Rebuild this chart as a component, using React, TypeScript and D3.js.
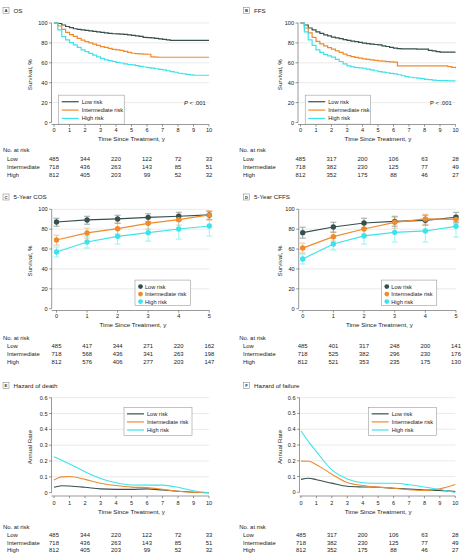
import React from 'react';
import * as d3 from 'd3';

const FONT = "'Liberation Sans', Arial, sans-serif";
const COLORS = ['#35504e', '#f08a2b', '#3ce3ea'];
const seriesNames = ['Low risk', 'Intermediate risk', 'High risk'];
const rowLabels = ['Low', 'Intermediate', 'High'];

// Kaplan-Meier time grid (years)
const kmTimes = [0, 0.25, 0.5, 0.75, 1, 1.25, 1.5, 1.75, 2, 2.25, 2.5, 2.75, 3, 3.25, 3.5, 3.75, 4, 4.25, 4.5, 4.75, 5, 5.25, 5.5, 5.75, 6, 6.25, 6.5, 6.75, 7, 7.25, 7.5, 7.75, 8, 8.25, 8.5, 8.75, 9, 9.25, 9.5, 9.75, 10];
const osLow = [100, 99.5, 98, 96.5, 95.3, 94.2, 93.5, 93, 92.5, 92, 91.5, 91, 90.6, 90, 89.5, 89.2, 89, 88.8, 88.5, 88, 87.6, 87, 86.5, 85.5, 85.3, 85, 84.6, 84, 83.6, 83, 82.6, 82.6, 82.6, 82.6, 82.6, 82.6, 82.6, 82.6, 82.6, 82.6, 82.6];
const osInt = [100, 97, 93.6, 90.5, 88.3, 86.5, 84.5, 82.8, 81.3, 80, 78.8, 77.5, 76.3, 75.5, 74.5, 73.5, 73, 72.5, 71.5, 70.5, 69.6, 69.3, 69, 68.8, 68.6, 66, 65.8, 65.6, 65.6, 65.6, 65.6, 65.6, 65.6, 65.6, 65.6, 65.6, 65.6, 65.6, 65.6, 65.6, 65.6];
const osHigh = [100, 93, 86.3, 83, 80.3, 78, 75.5, 73, 71.2, 69.5, 67.8, 66, 64.5, 63, 62.2, 61.3, 60.5, 59.8, 59, 58.3, 57.9, 57.2, 56.5, 55.8, 55.2, 54.6, 54, 53.4, 52.8, 52, 51.2, 50.5, 49.5, 49, 48.3, 47.8, 47.5, 47.5, 47.5, 47.5, 47.5];
const ffsLow = [100, 98, 95, 93, 91, 89.5, 88, 87, 85.9, 85, 84.2, 83.2, 82.5, 81.8, 81.2, 80.5, 79.8, 79.3, 78.8, 78.4, 78, 77, 76.4, 75.5, 74.7, 74.2, 74, 74, 74, 74, 73.8, 73.7, 73.7, 72.4, 72, 71.2, 70.7, 70.7, 70.7, 70.7, 70.7];
const ffsInt = [100, 95, 90, 85.5, 81.5, 79, 77, 75.3, 73.7, 72, 70.5, 68.8, 67.3, 66.3, 65.4, 64.6, 64, 63.5, 63, 62.5, 62, 61.6, 61.2, 60.9, 60.6, 57, 57, 57, 57, 57, 57, 57, 57, 57, 57, 57, 57, 57, 56.2, 55.5, 54.5];
const ffsHigh = [100, 91, 83, 77.5, 73, 70.5, 68.5, 67, 65.7, 63.5, 61.3, 59, 56.9, 56, 55.3, 55, 54.5, 53.7, 52.8, 52, 51.2, 50.6, 50, 49.4, 48.8, 48, 47, 46.2, 45.5, 45, 44.5, 44, 43.4, 43, 42.6, 42.2, 42, 42, 41.8, 41.8, 41.8];

// 5-year conditional survival
const condYears = [0, 1, 2, 3, 4, 5];
const cosLow = [87.2, 89.3, 90.3, 91.9, 93, 94.3];
const cosLowLo = [83, 85, 86, 87.5, 88.5, 90];
const cosLowHi = [91, 93, 94, 95.5, 97, 98];
const cosInt = [69.1, 76.2, 80.5, 85.9, 89.6, 94.3];
const cosIntLo = [64, 71, 75, 80, 84, 89];
const cosIntHi = [74, 81, 86, 91, 95, 98.5];
const cosHigh = [57, 67.1, 72.8, 76.5, 80.2, 83.2];
const cosHighLo = [52, 61, 65, 68, 70, 73];
const cosHighHi = [62, 73, 80, 85, 90, 93];
const cffsLow = [76.5, 82.2, 86.2, 87.9, 88.9, 92];
const cffsLowLo = [71, 77, 81, 83, 84, 87];
const cffsLowHi = [82, 87, 91, 93, 94, 97];
const cffsInt = [61, 72.5, 80.2, 86.9, 90.3, 89.9];
const cffsIntLo = [56, 68, 75, 81, 85, 86];
const cffsIntHi = [66, 77, 85, 92, 95, 94];
const cffsHigh = [50, 65.1, 73.2, 76.8, 78.2, 82.9];
const cffsHighLo = [45, 59, 65, 67, 67, 72];
const cffsHighHi = [55, 71, 81, 86, 88, 93];

// Hazard rates
const hzTimes = [0, 0.5, 1, 2, 3, 4, 5, 6, 7, 8, 9, 10];
const deathLow = [0.034, 0.044, 0.042, 0.034, 0.024, 0.021, 0.021, 0.024, 0.017, 0.009, 0.003, 0];
const deathInt = [0.08, 0.1, 0.102, 0.084, 0.06, 0.045, 0.035, 0.032, 0.021, 0.009, 0.003, 0];
const deathHigh = [0.227, 0.205, 0.182, 0.133, 0.09, 0.063, 0.049, 0.048, 0.048, 0.034, 0.012, 0];
const failLow = [0.082, 0.089, 0.08, 0.058, 0.038, 0.034, 0.032, 0.026, 0.02, 0.015, 0.012, 0.004];
const failInt = [0.198, 0.197, 0.175, 0.115, 0.062, 0.043, 0.033, 0.026, 0.016, 0.011, 0.022, 0.049];
const failHigh = [0.389, 0.32, 0.258, 0.142, 0.085, 0.061, 0.057, 0.057, 0.048, 0.034, 0.018, 0];

// Number at risk
const riskTimes10 = [0, 2, 4, 6, 8, 10];
const osRiskLow = [485, 344, 220, 122, 72, 33];
const osRiskInt = [718, 436, 263, 143, 85, 51];
const osRiskHigh = [812, 405, 203, 99, 52, 32];
const ffsRiskLow = [485, 317, 200, 106, 63, 28];
const ffsRiskInt = [718, 382, 230, 125, 77, 49];
const ffsRiskHigh = [812, 352, 175, 88, 46, 27];
const cosRiskLow = [485, 417, 344, 271, 220, 162];
const cosRiskInt = [718, 568, 436, 341, 263, 198];
const cosRiskHigh = [812, 576, 406, 277, 203, 147];
const cffsRiskLow = [485, 401, 317, 248, 200, 141];
const cffsRiskInt = [718, 525, 382, 296, 230, 176];
const cffsRiskHigh = [812, 521, 353, 235, 175, 130];

const ticks10 = [0, 1, 2, 3, 4, 5, 6, 7, 8, 9, 10];
const ticks5 = [0, 1, 2, 3, 4, 5];
const survTicks = [0, 20, 40, 60, 80, 100];
const rateTicks = [0, 0.1, 0.2, 0.3, 0.4, 0.5, 0.6];

type Cfg = {
  x0: number; x1: number; yAx: number; yTop: number; yBot: number; xAxisY: number;
  tickLabY: number; xTitleY: number; riskY: number[]; labelX: number; rowX: number;
  boxX: number; boxY: number; titleY: number; yLabelX: number;
  letter: string; title: string; yLabel: string;
  xMax: number; yMax: number; xTicks: number[]; yTicks: number[];
};

function Frame({ c, x, y, fmt }: { c: Cfg; x: any; y: any; fmt: (v: number) => string }) {
  return (
    <g>
      {/* panel label */}
      <rect x={c.boxX} y={c.boxY} width={6} height={6} fill="#fff" stroke="#777" strokeWidth={0.5} />
      <text x={c.boxX + 3} y={c.boxY + 4.7} fontSize={4.3} fontWeight="bold" textAnchor="middle" fill="#333">{c.letter}</text>
      <text x={c.boxX + 10.5} y={c.titleY} fontSize={6.2} fill="#222">{c.title}</text>
      {/* grid */}
      {c.yTicks.filter((t) => t > 0).map((t) => (
        <line key={'g' + t} x1={c.yAx} x2={c.x1} y1={y(t)} y2={y(t)} stroke="#dcdcdc" strokeWidth={0.6} />
      ))}
      {/* y axis */}
      <line x1={c.yAx} x2={c.yAx} y1={c.yTop} y2={c.yBot} stroke="#555" strokeWidth={0.6} />
      {c.yTicks.map((t) => (
        <g key={'y' + t}>
          <line x1={c.yAx - 2.5} x2={c.yAx} y1={y(t)} y2={y(t)} stroke="#555" strokeWidth={0.6} />
          <text x={c.yAx - 4} y={y(t) + 2} fontSize={5.6} textAnchor="end" fill="#222">{fmt(t)}</text>
        </g>
      ))}
      <text transform={`translate(${c.yLabelX},${(c.yTop + c.yBot) / 2 + 2}) rotate(-90)`} fontSize={6.2} textAnchor="middle" fill="#222">{c.yLabel}</text>
      {/* x axis */}
      <line x1={c.yAx} x2={c.x1} y1={c.xAxisY} y2={c.xAxisY} stroke="#555" strokeWidth={0.6} />
      {c.xTicks.map((t) => (
        <g key={'x' + t}>
          <line x1={x(t)} x2={x(t)} y1={c.xAxisY} y2={c.xAxisY + 2.2} stroke="#555" strokeWidth={0.6} />
          <text x={x(t)} y={c.tickLabY} fontSize={5.6} textAnchor="middle" fill="#222">{t}</text>
        </g>
      ))}
      <text x={(c.x0 + c.x1) / 2} y={c.xTitleY} fontSize={6.2} textAnchor="middle" fill="#222">Time Since Treatment, y</text>
    </g>
  );
}

function RiskTable({ c, x, times, rows }: { c: Cfg; x: any; times: number[]; rows: number[][] }) {
  return (
    <g fontSize={5.9} fill="#222">
      <text x={c.labelX} y={c.riskY[0]}>No. at risk</text>
      {rows.map((r, i) => (
        <g key={i}>
          <text x={c.rowX} y={c.riskY[i + 1]}>{rowLabels[i]}</text>
          {r.map((v, j) => (
            <text key={j} x={x(times[j])} y={c.riskY[i + 1]} textAnchor="middle">{v}</text>
          ))}
        </g>
      ))}
    </g>
  );
}

function LineLegend({ x, y, w, h }: { x: number; y: number; w: number; h: number }) {
  const step = h / 3.3;
  return (
    <g>
      <rect x={x} y={y} width={w} height={h} fill="#fff" stroke="#888" strokeWidth={0.5} />
      {seriesNames.map((n, i) => {
        const yy = y + step * 0.7 + i * step * 0.95 + step * 0.05;
        return (
          <g key={n}>
            <line x1={x + 3} x2={x + 20} y1={yy} y2={yy} stroke={COLORS[i]} strokeWidth={1.2} />
            <text x={x + 23} y={yy + 2} fontSize={5.6} fill="#222">{n}</text>
          </g>
        );
      })}
    </g>
  );
}

function DotLegend({ x, y, w, h }: { x: number; y: number; w: number; h: number }) {
  return (
    <g>
      <rect x={x} y={y} width={w} height={h} fill="#fff" stroke="#888" strokeWidth={0.5} />
      {seriesNames.map((n, i) => {
        const yy = y + 6.5 + i * 7.5;
        return (
          <g key={n}>
            <circle cx={x + 5.5} cy={yy} r={2.4} fill={COLORS[i]} />
            <text x={x + 10} y={yy + 2} fontSize={5.6} fill="#222">{n}</text>
          </g>
        );
      })}
    </g>
  );
}

function KMPanel({ c, series, pItalic, pX, riskRows }: { c: Cfg; series: number[][]; pItalic: boolean; pX: number; riskRows: number[][] }) {
  const x = d3.scaleLinear().domain([0, c.xMax]).range([c.x0, c.x1]);
  const y = d3.scaleLinear().domain([0, c.yMax]).range([c.yBot, c.yTop]);
  const line = d3.line<number>().x((_, i) => x(kmTimes[i])).y((d) => y(d)).curve(d3.curveStepAfter);
  return (
    <g>
      <Frame c={c} x={x} y={y} fmt={(v) => String(v)} />
      {series.map((s, i) => (
        <path key={i} d={line(s) || ''} fill="none" stroke={COLORS[i]} strokeWidth={1.2} />
      ))}
      <LineLegend x={c.x0 + 4.7} y={y(27.5)} w={65.5} h={29} />
      <text x={pX} y={y(19.5) + 2} fontSize={5.8} fill="#222">
        <tspan fontStyle={pItalic ? 'italic' : 'normal'}>P</tspan> &lt; .001
      </text>
      <RiskTable c={c} x={x} times={riskTimes10} rows={riskRows} />
    </g>
  );
}

function CondPanel({ c, series, lo, hi, legendX, riskRows }: { c: Cfg; series: number[][]; lo: number[][]; hi: number[][]; legendX: number; riskRows: number[][] }) {
  const x = d3.scaleLinear().domain([0, c.xMax]).range([c.x0, c.x1]);
  const y = d3.scaleLinear().domain([0, c.yMax]).range([c.yBot, c.yTop]);
  const line = d3.line<number>().x((_, i) => x(condYears[i])).y((d) => y(d));
  return (
    <g>
      <Frame c={c} x={x} y={y} fmt={(v) => String(v)} />
      {series.map((s, i) => (
        <g key={'e' + i} stroke={COLORS[i]} strokeWidth={0.9} opacity={0.55}>
          {s.map((_, j) => (
            <g key={j}>
              <line x1={x(condYears[j])} x2={x(condYears[j])} y1={y(lo[i][j])} y2={y(hi[i][j])} />
              <line x1={x(condYears[j]) - 3} x2={x(condYears[j]) + 3} y1={y(lo[i][j])} y2={y(lo[i][j])} />
              <line x1={x(condYears[j]) - 3} x2={x(condYears[j]) + 3} y1={y(hi[i][j])} y2={y(hi[i][j])} />
            </g>
          ))}
        </g>
      ))}
      {series.map((s, i) => (
        <path key={'l' + i} d={line(s) || ''} fill="none" stroke={COLORS[i]} strokeWidth={1.2} />
      ))}
      {series.map((s, i) => (
        <g key={'p' + i}>
          {s.map((v, j) => (
            <circle key={j} cx={x(condYears[j])} cy={y(v)} r={2.7} fill={COLORS[i]} />
          ))}
        </g>
      ))}
      <DotLegend x={legendX} y={y(28.8)} w={55.5} h={25.5} />
      <RiskTable c={c} x={x} times={condYears} rows={riskRows} />
    </g>
  );
}

function HazardPanel({ c, series, legendX, riskRows }: { c: Cfg; series: number[][]; legendX: number; riskRows: number[][] }) {
  const x = d3.scaleLinear().domain([0, c.xMax]).range([c.x0, c.x1]);
  const y = d3.scaleLinear().domain([0, c.yMax]).range([c.yBot, c.yTop]);
  const line = d3.line<number>().x((_, i) => x(hzTimes[i])).y((d) => y(d)).curve(d3.curveMonotoneX);
  return (
    <g>
      <Frame c={c} x={x} y={y} fmt={(v) => (v === 0 ? '0' : d3.format('.1f')(v))} />
      {series.map((s, i) => (
        <path key={i} d={line(s) || ''} fill="none" stroke={COLORS[i]} strokeWidth={1.1} />
      ))}
      <LineLegend x={legendX} y={y(0.538)} w={c === undefined ? 0 : 68} h={28} />
      <RiskTable c={c} x={x} times={riskTimes10} rows={riskRows} />
    </g>
  );
}

const base = {
  xMax: 10, yMax: 100, xTicks: ticks10, yTicks: survTicks, yLabel: 'Survival, %',
};

const cfgA: Cfg = {
  ...base, x0: 54, x1: 209, yAx: 51.5, yTop: 23, yBot: 122.5, xAxisY: 124.5, tickLabY: 131.8, xTitleY: 141.2,
  riskY: [152.2, 160.5, 168.8, 177.2], labelX: 3, rowX: 7, boxX: 3, boxY: 7.7, titleY: 13.3, yLabelX: 31.5,
  letter: 'A', title: 'OS',
};
const cfgB: Cfg = {
  ...cfgA, x0: 300.5, x1: 455.5, yAx: 298, labelX: 239.3, rowX: 243, boxX: 243.5, yLabelX: 282, letter: 'B', title: 'FFS',
};
const cfgC: Cfg = {
  ...base, xMax: 5, xTicks: ticks5, x0: 56.5, x1: 209.3, yAx: 51.7, yTop: 209.3, yBot: 308.7, xAxisY: 310.5,
  tickLabY: 318, xTitleY: 327.2, riskY: [340.3, 348, 355.7, 363.7], labelX: 3, rowX: 7, boxX: 3, boxY: 194,
  titleY: 199.4, yLabelX: 31.5, letter: 'C', title: '5-Year COS',
};
const cfgD: Cfg = {
  ...cfgC, x0: 302.7, x1: 456, yAx: 298.7, labelX: 239.3, rowX: 243, boxX: 243.5, yLabelX: 282, letter: 'D', title: '5-Year CFFS',
};
const cfgE: Cfg = {
  ...base, yMax: 0.6, yTicks: rateTicks, yLabel: 'Annual Rate', x0: 54, x1: 209, yAx: 51.5, yTop: 397.7, yBot: 492.7,
  xAxisY: 496, tickLabY: 504.7, xTitleY: 513.7, riskY: [529.3, 537, 544.6, 552.2], labelX: 3, rowX: 7, boxX: 3,
  boxY: 382.3, titleY: 387.5, yLabelX: 32, letter: 'E', title: 'Hazard of death',
};
const cfgF: Cfg = {
  ...cfgE, x0: 301, x1: 455.3, yAx: 299.5, yBot: 492.3, labelX: 239.3, rowX: 243, boxX: 243.5, yLabelX: 282,
  letter: 'F', title: 'Hazard of failure',
};

export default function App() {
  return (
    <svg width={467} height={560} style={{ position: 'absolute', left: 0, top: 0, background: '#fff' }} fontFamily={FONT}>
      <rect width={467} height={560} fill="#fff" />
      <KMPanel c={cfgA} series={[osLow, osInt, osHigh]} pItalic={true} pX={184} riskRows={[osRiskLow, osRiskInt, osRiskHigh]} />
      <KMPanel c={cfgB} series={[ffsLow, ffsInt, ffsHigh]} pItalic={false} pX={430} riskRows={[ffsRiskLow, ffsRiskInt, ffsRiskHigh]} />
      <CondPanel c={cfgC} series={[cosLow, cosInt, cosHigh]} lo={[cosLowLo, cosIntLo, cosHighLo]} hi={[cosLowHi, cosIntHi, cosHighHi]} legendX={135} riskRows={[cosRiskLow, cosRiskInt, cosRiskHigh]} />
      <CondPanel c={cfgD} series={[cffsLow, cffsInt, cffsHigh]} lo={[cffsLowLo, cffsIntLo, cffsHighLo]} hi={[cffsLowHi, cffsIntHi, cffsHighHi]} legendX={381.3} riskRows={[cffsRiskLow, cffsRiskInt, cffsRiskHigh]} />
      <HazardPanel c={cfgE} series={[deathLow, deathInt, deathHigh]} legendX={124} riskRows={[osRiskLow, osRiskInt, osRiskHigh]} />
      <HazardPanel c={cfgF} series={[failLow, failInt, failHigh]} legendX={368.7} riskRows={[ffsRiskLow, ffsRiskInt, ffsRiskHigh]} />
    </svg>
  );
}
